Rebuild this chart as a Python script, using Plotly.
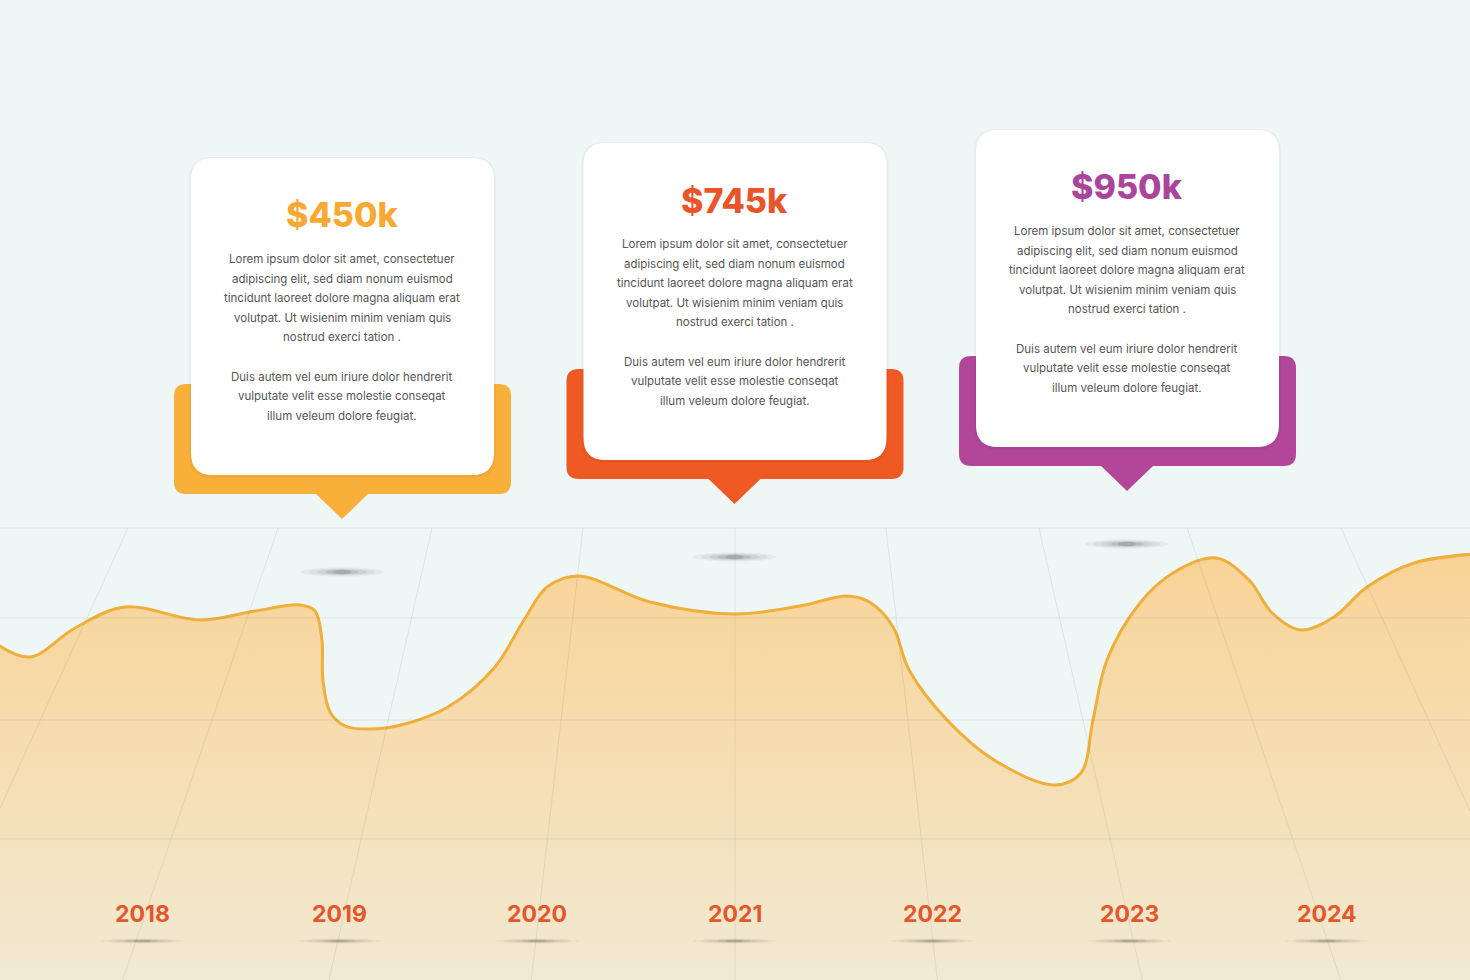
import plotly.graph_objects as go

# ---------------- data ----------------
years = [2018, 2019, 2020, 2021, 2022, 2023, 2024]
year_labels = ["2018", "2019", "2020", "2021", "2022", "2023", "2024"]

curve_x = [2017.256, 2017.433, 2017.661, 2017.914, 2018.294, 2018.572, 2018.800, 2018.876,
           2018.911, 2018.916, 2018.952, 2019.028, 2019.154, 2019.311, 2019.549, 2019.787,
           2019.934, 2020.051, 2020.208, 2020.572, 2021.003, 2021.332, 2021.575, 2021.691,
           2021.803, 2021.884, 2022.076, 2022.314, 2022.623, 2022.754, 2022.815, 2022.886,
           2023.053, 2023.220, 2023.438, 2023.605, 2023.722, 2023.868, 2024.035, 2024.203,
           2024.441, 2024.749]
curve_y = [84.25, 80.75, 88.0, 93.25, 90.0, 92.25, 93.75, 92.25,
           85.0, 75.0, 67.0, 63.5, 62.75, 63.75, 68.25, 78.25,
           90.0, 98.25, 101.0, 94.5, 91.5, 93.5, 96.0, 94.25,
           88.25, 77.5, 65.0, 55.0, 48.75, 51.75, 65.0, 80.0,
           94.25, 101.75, 105.5, 100.0, 91.75, 87.5, 90.75, 98.25,
           104.25, 106.5]

card_years = [2019, 2021, 2023]
card_values = ["$450k", "$745k", "$950k"]
card_text_1 = ["Lorem ipsum dolor sit amet, consectetuer",
               "adipiscing elit, sed diam nonum euismod",
               "tincidunt laoreet dolore magna aliquam erat",
               "volutpat. Ut wisienim minim veniam quis",
               "nostrud exerci tation ."]
card_text_2 = ["Duis autem vel eum iriure dolor hendrerit",
               "vulputate velit esse molestie conseqat",
               "illum veleum dolore feugiat."]

# ---------------- layout constants ----------------
W, H = 1470, 980
X0, X1 = 2017.281, 2024.724
Y0, Y1 = 0, 245
BG = "#EEF6F6"
card_colors = ["#F8B03B", "#EF5A24", "#B2479A"]
title_colors = ["#F7A934", "#E9552A", "#A9459B"]
card_tops = [158, 143, 130]
card_dx = [2.5, 0.0, -2.5]
YEAR_COLOR = "#E2572C"


def xpx(year):
    return (year - X0) / (X1 - X0) * W


def P(px, py):
    return f"{px / W:.5f},{1 - py / H:.5f}"


def rrect(x0, y0, x1, y1, r):
    return ("M " + P(x0 + r, y0) + " L " + P(x1 - r, y0) + " Q " + P(x1, y0) + " " + P(x1, y0 + r) +
            " L " + P(x1, y1 - r) + " Q " + P(x1, y1) + " " + P(x1 - r, y1) +
            " L " + P(x0 + r, y1) + " Q " + P(x0, y1) + " " + P(x0, y1 - r) +
            " L " + P(x0, y0 + r) + " Q " + P(x0, y0) + " " + P(x0 + r, y0) + " Z")


def blur_ellipse(cx, cy, w, h, base=0.05):
    out = []
    for s, op in [(1.0, base), (0.8, base * 1.2), (0.6, base * 1.5), (0.4, base * 2.0), (0.22, base * 2.5)]:
        ww, hh = w * s, h * max(s, 0.5)
        out.append(dict(type="circle", xref="paper", yref="paper",
                        x0=(cx - ww / 2) / W, x1=(cx + ww / 2) / W,
                        y0=1 - (cy + hh / 2) / H, y1=1 - (cy - hh / 2) / H,
                        fillcolor=f"rgba(40,40,40,{op:.3f})", line=dict(width=0), layer="above"))
    return out


shapes = []
# perspective grid
GRID_TOP = 528
h_lines = [528, 618, 720, 839]
for hy in h_lines:
    shapes.append(dict(type="line", xref="paper", yref="paper", x0=0, x1=1,
                       y0=1 - hy / H, y1=1 - hy / H,
                       line=dict(color="rgba(120,120,120,0.14)", width=1), layer="above"))
fan_top = [128, 278, 432, 583, 735, 886, 1039, 1187, 1341]
for tx in fan_top:
    bx = 735 + (tx - 735) * 1.34
    shapes.append(dict(type="line", xref="paper", yref="paper",
                       x0=tx / W, x1=bx / W, y0=1 - GRID_TOP / H, y1=0,
                       line=dict(color="rgba(110,110,110,0.16)", width=0.8), layer="above"))

annotations = []
for i, cy in enumerate(card_years):
    cx = xpx(cy) + card_dx[i]
    tx = cx / W
    top = card_tops[i]
    # back coloured tab
    bx0, bx1 = cx - 168, cx + 169
    by0, by1 = top + 226, top + 336
    shapes.append(dict(type="path", xref="paper", yref="paper", path=rrect(bx0, by0, bx1, by1, 12),
                       fillcolor=card_colors[i], line=dict(width=0), layer="above"))
    tri = "M " + P(cx - 27, by1 - 1) + " L " + P(cx + 27, by1 - 1) + " L " + P(cx, by1 + 25) + " Z"
    shapes.append(dict(type="path", xref="paper", yref="paper", path=tri,
                       fillcolor=card_colors[i], line=dict(width=0), layer="above"))
    # white card shadow + card
    shapes.append(dict(type="path", xref="paper", yref="paper",
                       path=rrect(cx - 153, top - 1, cx + 154, top + 320, 23),
                       fillcolor="rgba(0,0,0,0.035)", line=dict(width=0), layer="above"))
    shapes.append(dict(type="path", xref="paper", yref="paper",
                       path=rrect(cx - 151, top, cx + 152, top + 317, 22),
                       fillcolor="#FFFFFF", line=dict(width=0), layer="above"))
    # shadow under pointer
    shapes += blur_ellipse(cx, by1 + 78, 84, 9, 0.05)
    # title
    annotations.append(dict(x=tx, xref="paper", y=1 - (top + 57) / H, yref="paper",
                            text=card_values[i], showarrow=False, xanchor="center", yanchor="middle",
                            font=dict(family="Inter", size=34, color=title_colors[i], weight=800)))
    ly = top + 101
    for line in card_text_1:
        annotations.append(dict(x=tx, xref="paper", y=1 - ly / H, yref="paper", text=line,
                                showarrow=False, xanchor="center", yanchor="middle",
                                font=dict(family="Inter", size=11.5, color="#555555")))
        ly += 19.6
    ly += 19.6
    for line in card_text_2:
        annotations.append(dict(x=tx, xref="paper", y=1 - ly / H, yref="paper", text=line,
                                showarrow=False, xanchor="center", yanchor="middle",
                                font=dict(family="Inter", size=11.5, color="#555555")))
        ly += 19.6

# year labels + shadows
for yr, lab in zip(years, year_labels):
    annotations.append(dict(x=yr, xref="x", y=1 - 914 / H, yref="paper", text=lab,
                            showarrow=False, xanchor="center", yanchor="middle",
                            font=dict(family="Inter", size=23, color=YEAR_COLOR, weight=700)))
    shapes += blur_ellipse(xpx(yr), 941, 84, 5, 0.045)

fig = go.Figure()
fig.add_trace(go.Scatter(
    x=curve_x, y=curve_y, mode="lines",
    line=dict(color="#F0AE3A", width=3, shape="spline", smoothing=1.0),
    fill="tozeroy",
    fillgradient=dict(type="vertical", start=0, stop=106.5,
                      colorscale=[[0, "#F1E9D3"], [0.55, "#F6DDB0"], [1, "#F8D397"]]),
    hoverinfo="skip", showlegend=False,
))

fig.update_layout(
    width=W, height=H,
    margin=dict(l=0, r=0, t=0, b=0),
    paper_bgcolor=BG, plot_bgcolor=BG,
    xaxis=dict(range=[X0, X1], visible=False, fixedrange=True),
    yaxis=dict(range=[Y0, Y1], visible=False, fixedrange=True),
    shapes=shapes, annotations=annotations,
    showlegend=False,
)

fig.write_html("out.html", config=dict(displayModeBar=False),
               post_script="document.body.style.margin='0';document.body.style.overflow='hidden';")
